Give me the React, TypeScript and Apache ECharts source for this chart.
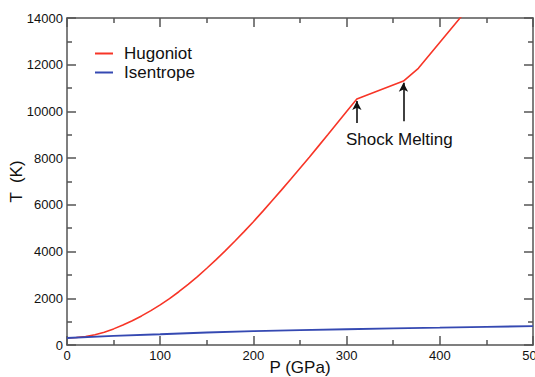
import React, { useEffect, useRef } from "react";
import * as echarts from "echarts";

const hugoniotP = [0, 10, 20, 30, 40, 50, 60, 70, 80, 90, 100, 110, 120, 130, 140, 150, 160, 170, 180, 190, 200, 210, 220, 230, 240, 250, 260, 270, 280, 290, 300, 311, 361, 377, 421.5, 430];
const hugoniotT = [300, 320, 365, 440, 550, 690, 855, 1040, 1245, 1470, 1715, 1985, 2280, 2595, 2930, 3285, 3655, 4040, 4440, 4855, 5280, 5720, 6175, 6630, 7095, 7565, 8040, 8525, 9010, 9500, 9995, 10530, 11300, 11845, 13985, 14400];

const isentropeP = [0, 50, 100, 150, 200, 250, 300, 350, 400, 450, 500];
const isentropeT = [300, 390, 460, 535, 595, 640, 675, 710, 740, 775, 810];

const seriesNames = ["Hugoniot", "Isentrope"];
const arrowA = [[311, 9500], [311, 10450]];
const arrowB = [[361, 9580], [361, 11230]];
const annotationText = "Shock Melting";

const AXIS = "#555";
const TXT = "#111";
const FONT = "Liberation Sans, Arial, Helvetica, sans-serif";

export default function App() {
  const ref = useRef<HTMLDivElement>(null);
  useEffect(() => {
    if (!ref.current) return;
    const chart = echarts.init(ref.current, undefined, { renderer: "svg" });
    const axisCommon = {
      axisLine: { show: true, onZero: false, lineStyle: { color: AXIS, width: 1.5 } },
      axisTick: { show: true, inside: true, length: 9, lineStyle: { color: AXIS, width: 1.5 } },
      minorTick: { show: true, splitNumber: 2, length: 5, lineStyle: { color: AXIS, width: 1.5 } },
      splitLine: { show: false },
      minorSplitLine: { show: false },
    };
    const fmt = (v: number) => String(v);
    chart.setOption({
      animation: false,
      textStyle: { fontFamily: FONT },
      grid: { left: 67, right: 2, top: 18, bottom: 32, containLabel: false, outerBoundsMode: "none" },
      legend: {
        orient: "vertical",
        left: 95,
        top: 45,
        padding: 0,
        icon: "rect",
        itemWidth: 18,
        itemHeight: 2,
        itemGap: 2,
        textStyle: { fontSize: 17, color: TXT, fontFamily: FONT, padding: [0, 0, 0, 6] },
        data: seriesNames,
      },
      xAxis: [
        {
          type: "value",
          min: 0,
          max: 500,
          interval: 100,
          position: "bottom",
          name: "P (GPa)",
          nameLocation: "middle",
          nameGap: 14,
          nameMoveOverlap: false,
          nameTextStyle: { fontSize: 17, color: TXT, fontFamily: FONT },
          axisLabel: { fontSize: 13, color: TXT, margin: 4, fontFamily: FONT, formatter: fmt },
          ...axisCommon,
        },
        {
          type: "value",
          min: 0,
          max: 500,
          interval: 100,
          position: "top",
          axisLabel: { show: false },
          ...axisCommon,
        },
      ],
      yAxis: [
        {
          type: "value",
          min: 0,
          max: 14000,
          interval: 2000,
          position: "left",
          name: "T  (K)",
          nameLocation: "middle",
          nameGap: 42,
          nameMoveOverlap: false,
          nameTextStyle: { fontSize: 17, color: TXT, fontFamily: FONT },
          axisLabel: { fontSize: 13, color: TXT, margin: 4, fontFamily: FONT, formatter: fmt },
          ...axisCommon,
        },
        {
          type: "value",
          min: 0,
          max: 14000,
          interval: 2000,
          position: "right",
          axisLabel: { show: false },
          ...axisCommon,
        },
      ],
      series: [
        {
          name: seriesNames[0],
          type: "line",
          data: hugoniotP.map((p, i) => [p, hugoniotT[i]]),
          showSymbol: false,
          symbol: "none",
          smooth: false,
          color: "#f73527",
          lineStyle: { color: "#f73527", width: 1.6 },
          markLine: {
            silent: true,
            symbol: ["none", "arrow"],
            symbolSize: [7, 9],
            label: { show: false },
            lineStyle: { color: "#111", width: 1.6, type: "solid" },
            data: [
              [{ coord: arrowA[0] }, { coord: arrowA[1] }],
              [{ coord: arrowB[0] }, { coord: arrowB[1] }],
            ],
          },
        },
        {
          name: seriesNames[1],
          type: "line",
          data: isentropeP.map((p, i) => [p, isentropeT[i]]),
          showSymbol: false,
          symbol: "none",
          color: "#3549b2",
          lineStyle: { color: "#3549b2", width: 1.8 },
        },
      ],
      graphic: [
        {
          type: "text",
          left: 346,
          top: 131,
          style: { text: annotationText, fontSize: 17, fill: TXT, fontFamily: FONT },
        },
      ],
    });
    return () => chart.dispose();
  }, []);
  return (
    <div
      ref={ref}
      style={{ position: "fixed", left: 0, top: 0, width: 535, height: 377, background: "#fff" }}
    />
  );
}
